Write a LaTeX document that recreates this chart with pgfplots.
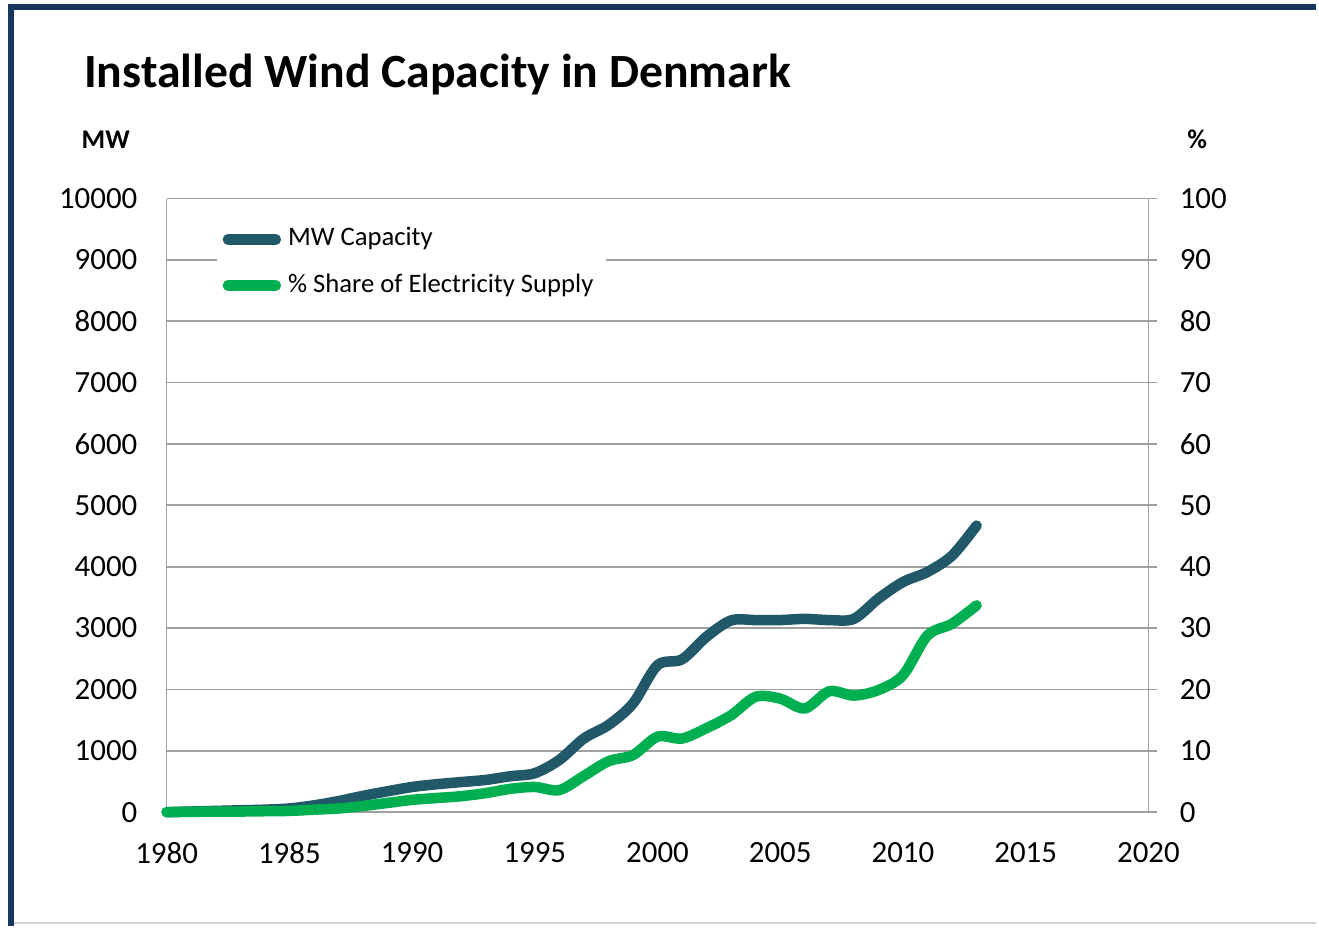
\documentclass[border=0pt]{standalone}
\usepackage{pgfplots}
\pgfplotsset{compat=1.18}
\usepackage{fontspec}
\setmainfont{Carlito}
\definecolor{mwteal}{RGB}{33,89,104}
\definecolor{sharegreen}{RGB}{0,176,80}
\definecolor{gridgray}{RGB}{160,160,160}
\definecolor{framenavy}{RGB}{23,55,94}
\definecolor{bottomgray}{RGB}{210,210,210}

\pgfplotsset{
  windbase/.style={
    scale only axis,
    width=9.84cm, height=6.15cm,
    at={(1.67cm,1.14cm)}, anchor=south west,
    xmin=1980, xmax=2020,
    clip=false,
    scaled ticks=false,
    axis line style={gridgray, line width=0.5pt},
    /pgf/number format/assume math mode=true,
    /pgf/number format/set thousands separator={},
    tick label style={font=\fontsize{8.8}{10}\selectfont},
  }
}

\begin{document}
\begin{tikzpicture}
  % page and frame
  \fill[white] (0,0) rectangle (13.19,9.28);
  \draw[bottomgray, line width=0.6pt] (0.11,0.03) -- (13.19,0.03);
  \draw[framenavy, line width=1.7pt] (0.11,0) -- (0.11,9.205) -- (13.19,9.205);

  \node[anchor=west, font=\bfseries\fontsize{13.6}{16}\selectfont] at (0.72,8.53) {Installed Wind Capacity in Denmark};
  \node[font=\bfseries\fontsize{7.7}{9}\selectfont] at (1.06,7.88) {MW};
  \node[font=\bfseries\fontsize{7.7}{9}\selectfont] at (12.0,7.88) {\%};

  % MW axis (left)
  \begin{axis}[
    windbase,
    ymin=0, ymax=10000,
    axis x line*=bottom,
    axis y line*=left,
    xtick={1980,1985,...,2020},
    ytick={0,1000,...,10000},
    major tick length=0pt,
    ymajorgrids,
    major grid style={gridgray, line width=0.5pt},
    xticklabel style={yshift=-0.18cm},
    yticklabel style={xshift=-0.17cm},
    legend style={
      at={(0.051,0.988)}, anchor=north west,
      draw=none, fill=white,
      font=\fontsize{7.6}{9}\selectfont,
      row sep=2.4pt,
      inner xsep=1.5pt, inner ysep=4pt,
      nodes={inner xsep=2pt},
    },
    legend cell align=left,
    legend image code/.code={
      \draw[#1, line cap=round] (0.04cm,0cm) -- (0.52cm,0cm);
    },
  ]
    \addplot[mwteal, line width=3pt, smooth, line cap=round] coordinates {
      (1980,0) (1981,10) (1982,20) (1983,30) (1984,40)
      (1985,60) (1986,110) (1987,180) (1988,265) (1989,340)
      (1990,410) (1991,455) (1992,490) (1993,525) (1994,585)
      (1995,635) (1996,850) (1997,1200) (1998,1420) (1999,1770)
      (2000,2395) (2001,2490) (2002,2860) (2003,3125) (2004,3130)
      (2005,3130) (2006,3150) (2007,3130) (2008,3150) (2009,3480)
      (2010,3750) (2011,3915) (2012,4180) (2013,4670)
    };
    \addlegendentry{MW Capacity}
    \addlegendimage{sharegreen, line width=3pt}
    \addlegendentry{\% Share of Electricity Supply}
  \end{axis}

  % % share axis (right)
  \begin{axis}[
    windbase,
    ymin=0, ymax=100,
    axis x line=none,
    axis y line*=right,
    ytick={0,10,...,100},
    tick align=outside,
    major tick length=0.09cm,
    tick style={gridgray, line width=0.5pt},
    yticklabel style={xshift=0.1cm},
  ]
    \addplot[sharegreen, line width=3pt, smooth, line cap=round] coordinates {
      (1980,0) (1981,0.05) (1982,0.1) (1983,0.1) (1984,0.15)
      (1985,0.2) (1986,0.4) (1987,0.6) (1988,1.0) (1989,1.5)
      (1990,2.0) (1991,2.3) (1992,2.6) (1993,3.1) (1994,3.8)
      (1995,4.1) (1996,3.6) (1997,5.9) (1998,8.3) (1999,9.3)
      (2000,12.3) (2001,12.0) (2002,13.7) (2003,15.8) (2004,18.8)
      (2005,18.5) (2006,16.9) (2007,19.7) (2008,19.0) (2009,19.9)
      (2010,22.3) (2011,28.8) (2012,30.7) (2013,33.7)
    };
  \end{axis}
\end{tikzpicture}
\end{document}
